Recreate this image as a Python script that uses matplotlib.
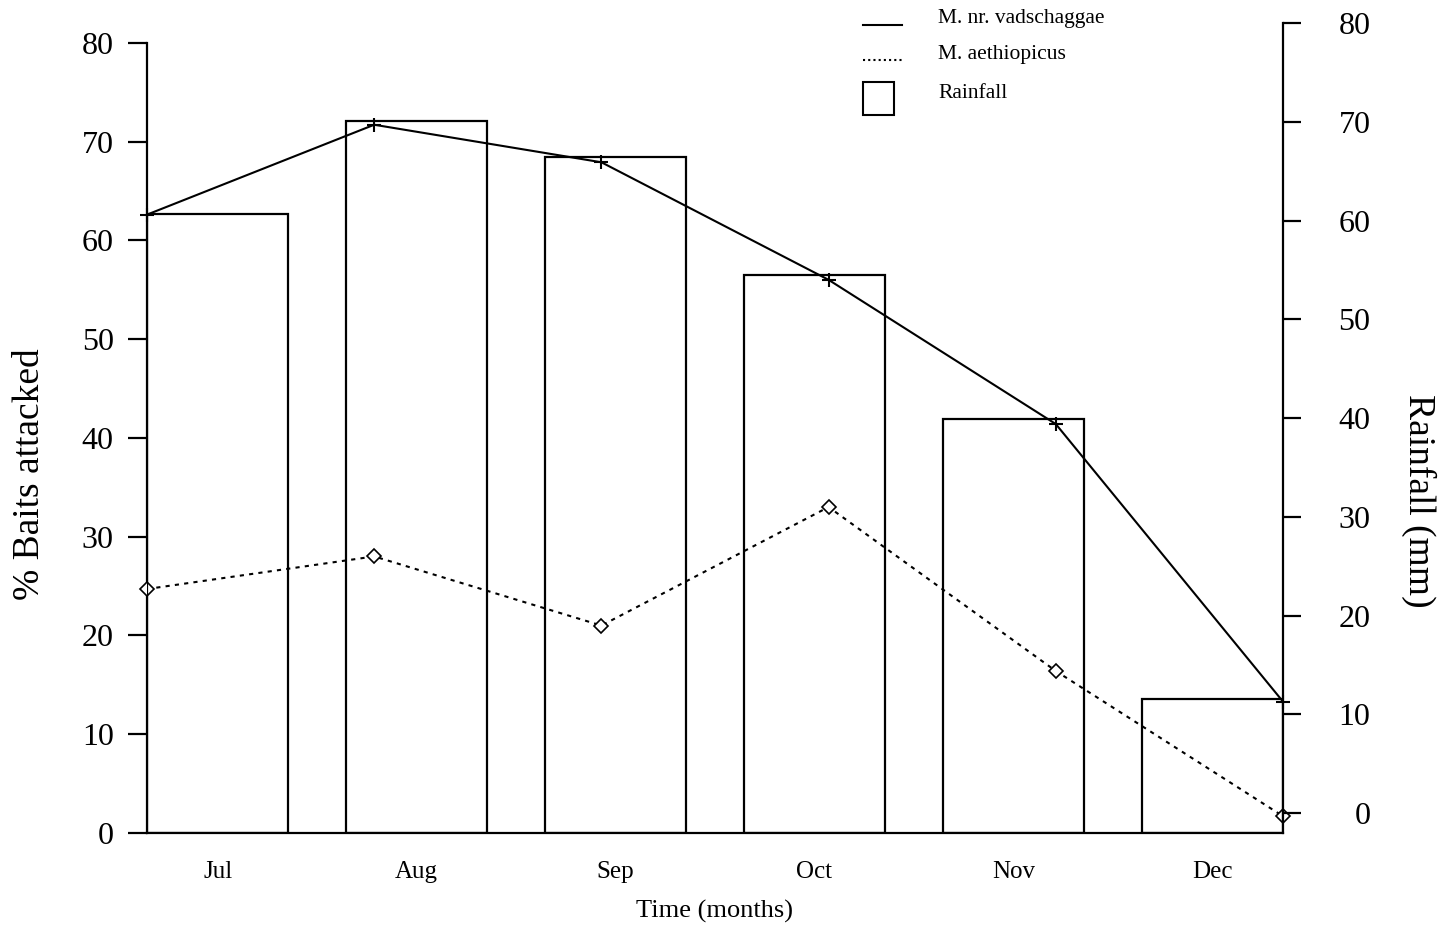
import matplotlib
matplotlib.use("Agg")
import matplotlib.pyplot as plt
import numpy as np
from matplotlib.lines import Line2D
from matplotlib.patches import Rectangle

plt.rcParams["font.family"] = ["Liberation Serif", "DejaVu Serif"]

MONTHS = ["Jul", "Aug", "Sep", "Oct", "Nov", "Dec"]
VADSCHAGGAE = [62.6, 71.7, 67.9, 56.0, 41.4, 13.3]   # % baits attacked
AETHIOPICUS = [24.7, 28.0, 21.0, 33.0, 16.4, 1.7]    # % baits attacked
RAINFALL = [60.7, 70.1, 66.4, 54.5, 39.9, 11.6]      # mm

X_MAX = 5.71
BAR_W = 0.71
RAIN_MIN = -2.0

fig = plt.figure(figsize=(14.42, 9.30), dpi=100)
ax = fig.add_axes([147 / 1442, 97 / 930, 1136 / 1442, 810 / 930])
ax2 = ax.twinx()

bar_left = np.arange(len(MONTHS))
rain = np.array(RAINFALL)
ax2.bar(bar_left, rain - RAIN_MIN, bottom=RAIN_MIN, width=BAR_W, align="edge",
        fill=False, edgecolor="black", linewidth=1.6)

line_x = np.linspace(0, X_MAX, len(MONTHS))
ax.plot(line_x, VADSCHAGGAE, color="black", lw=1.5, marker="+", ms=10, mew=1.5,
        clip_on=False, zorder=5)
ax.plot(line_x, AETHIOPICUS, color="black", lw=1.5, ls=(0, (2, 2.5)), marker="D",
        ms=7, mfc="white", mec="black", mew=1.2, clip_on=False, zorder=5)

ax.set_xlim(0, X_MAX)
ax.set_ylim(0, 82)
ax2.set_ylim(RAIN_MIN, 80)

for a in (ax, ax2):
    a.spines["top"].set_visible(False)
    for s in a.spines.values():
        s.set_linewidth(1.6)
ax.spines["right"].set_visible(False)
ax2.spines["left"].set_visible(False)
ax2.spines["bottom"].set_visible(False)
ax.spines["left"].set_bounds(0, 80)
ax2.spines["right"].set_bounds(RAIN_MIN, 80)

ax.set_yticks(np.arange(0, 81, 10))
ax.tick_params(axis="y", direction="out", length=14, width=1.6, pad=10, labelsize=23)
ax2.set_yticks(np.arange(0, 81, 10))
ax2.tick_params(axis="y", direction="out", length=13, width=1.6, pad=50, labelsize=23)
for lab in ax2.get_yticklabels():
    lab.set_horizontalalignment("right")

ax.set_xticks(bar_left + BAR_W / 2)
ax.set_xticklabels(MONTHS)
ax.tick_params(axis="x", length=0, pad=20, labelsize=18)

ax.set_xlabel("Time (months)", fontsize=19, labelpad=12)
ax.set_ylabel("% Baits attacked", fontsize=27, va="center")
ax.yaxis.set_label_coords(-0.103, 0.443)
ax2.set_ylabel("Rainfall (mm)", fontsize=27, rotation=-90, va="center")
ax2.yaxis.set_label_coords(1.119, 0.41)

# legend drawn in figure pixels
W, H = 1442, 930
fig.add_artist(Line2D([863 / W, 902 / W], [1 - 25 / H, 1 - 25 / H], color="black", lw=1.5))
fig.add_artist(Line2D([863 / W, 902 / W], [1 - 60 / H, 1 - 60 / H], color="black", lw=1.5,
                      ls=(0, (1, 1.5))))
fig.add_artist(Rectangle((863 / W, 1 - 115 / H), 31 / W, 33 / H, fill=False,
                         edgecolor="black", lw=1.5, transform=fig.transFigure))
for txt, yy in [("M. nr. vadschaggae", 18), ("M. aethiopicus", 55), ("Rainfall", 94)]:
    fig.text(938 / W, 1 - yy / H, txt, fontsize=15.5, va="center", ha="left")

fig.savefig("out.png", dpi=100)
